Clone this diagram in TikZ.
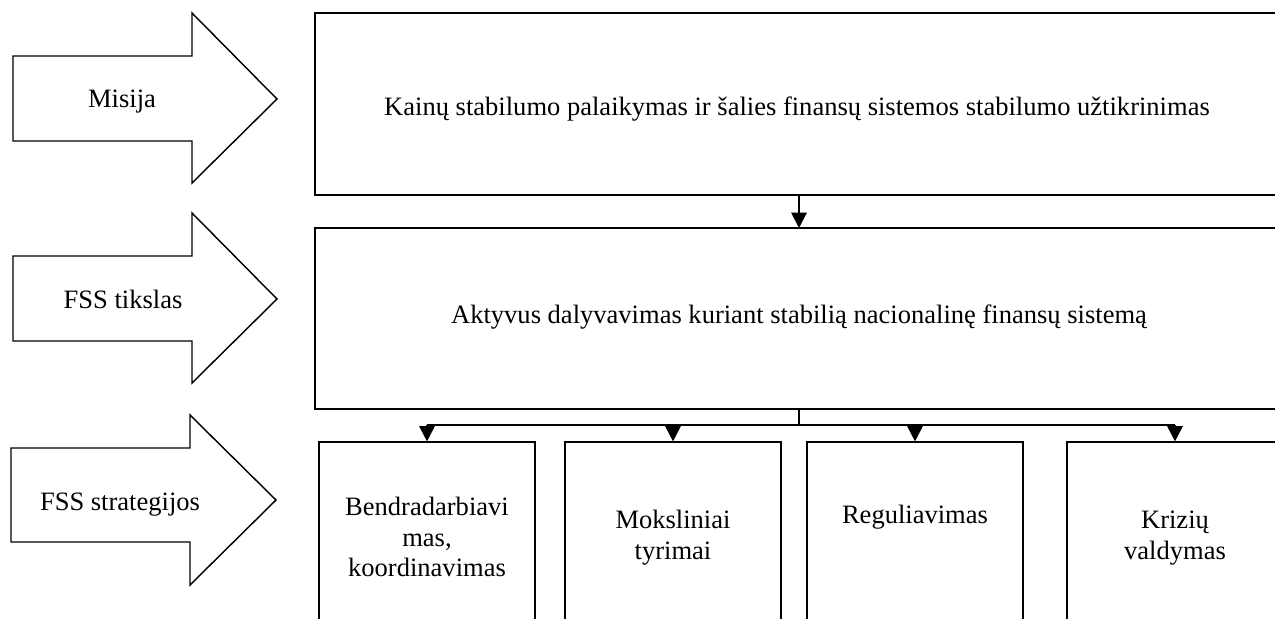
\documentclass[tikz,border=0pt]{standalone}
\usepackage{fontspec}
\setmainfont{Liberation Serif}
\usetikzlibrary{arrows.meta,fit}
\begin{document}
\begin{tikzpicture}[x=0.52pt,y=-0.52pt,
  box/.style={draw,line width=0.6pt,inner sep=0pt},
  bigarrow/.style={draw,line width=0.75pt,line join=miter},
  lbl/.style={font=\fontsize{13.8}{16}\selectfont,inner sep=0pt,align=center},
  conn/.style={line width=1pt},
  tip/.style={conn,-{Triangle[width=8pt,length=8pt]}}]
\clip (0,0) rectangle (1275,619);
% big arrows
\draw[bigarrow] (13,56) -- (192,56) -- (192,13) -- (277,99) -- (192,183) -- (192,141) -- (13,141) -- cycle;
\draw[bigarrow] (13,256) -- (192,256) -- (192,213) -- (277,299) -- (192,383) -- (192,341) -- (13,341) -- cycle;
\draw[bigarrow] (11,448) -- (190,448) -- (190,415) -- (276,500) -- (190,585) -- (190,542) -- (11,542) -- cycle;
\node[lbl,anchor=base] (l1) at (122,107) {Misija};
\node[lbl,anchor=base] (l2) at (123,308) {FSS tikslas};
\node[lbl,anchor=base] (l3) at (120,510) {FSS strategijos};
% boxes
\node[box,fit={(315,13) (1281,195)}] (top) {};
\node[box,fit={(315,228) (1281,409)}] (mid) {};
\node[box,fit={(319,442) (535,660)}] (b1) {};
\node[box,fit={(565,442) (781,660)}] (b2) {};
\node[box,fit={(807,442) (1023,660)}] (b3) {};
\node[box,fit={(1067,442) (1283,660)}] (b4) {};
\node[lbl,anchor=base] (t1) at (797,115) {Kainų stabilumo palaikymas ir šalies finansų sistemos stabilumo užtikrinimas};
\node[lbl,anchor=base] (t2) at (799,323) {Aktyvus dalyvavimas kuriant stabilią nacionalinę finansų sistemą};
\node[lbl] (s1) at (427,537) {Bendradarbiavi\\mas,\\koordinavimas};
\node[lbl] (s2) at (673,538) {Moksliniai\\tyrimai};
\node[lbl,anchor=base] (s3) at (915,523) {Reguliavimas};
\node[lbl] (s4) at (1175,538) {Krizių\\valdymas};
% connectors
\draw[tip] (799,195) -- (799,228);
\coordinate (j) at (799,425);
\draw[conn] (799,409) -- (j);
\draw[conn] (b1.north |- j) -- (b4.north |- j);
\foreach \b in {b1,b2,b3,b4} \draw[tip] (\b.north |- j) -- (\b.north);
\end{tikzpicture}
\end{document}
